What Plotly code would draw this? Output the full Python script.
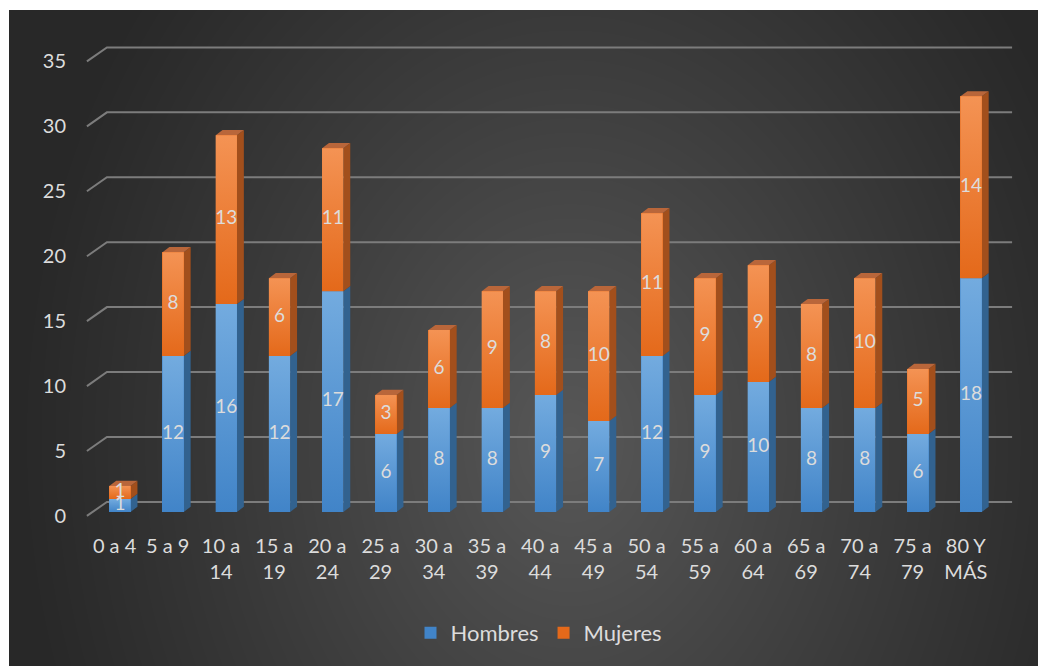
import base64
import struct
import zlib

import numpy as np
import plotly.graph_objects as go

# ---------------- data ----------------
categories = ["0 a 4", "5 a 9", "10 a<br>14", "15 a<br>19", "20 a<br>24", "25 a<br>29",
              "30 a<br>34", "35 a<br>39", "40 a<br>44", "45 a<br>49", "50 a<br>54",
              "55 a<br>59", "60 a<br>64", "65 a<br>69", "70 a<br>74", "75 a<br>79",
              "80 Y<br>MÁS"]
hombres = [1, 12, 16, 12, 17, 6, 8, 8, 9, 7, 12, 9, 10, 8, 8, 6, 18]
mujeres = [1, 8, 13, 6, 11, 3, 6, 9, 8, 10, 11, 9, 9, 8, 10, 5, 14]
y_ticks = [0, 5, 10, 15, 20, 25, 30, 35]

# ---------------- style ----------------
W, H = 1046, 666
OFF = 8                      # page offset of the figure inside the browser window
M_L, M_R, M_T, M_B = 80 - OFF, 27 + OFF, 34 - OFF, 145 + OFF
X_RANGE = [-0.75, 16.9]
Y_RANGE = [-0.7, 36.8]
BAR_W = 0.40
DX, DY = 0.13, 0.40          # 3-D depth of the bars (data units)
FLOOR_SHIFT = -0.31          # front floor level relative to bar front
BACK_SHIFT = 0.77            # back wall level relative to bar front
XF0, XB0, XB1 = -0.62, -0.244, 16.77
LABEL_SHIFT = -0.10

TXT = "#dcdcdc"
FONT = "Lato"
GRID = "#7c7c7c"
BLUE_BOT, BLUE_TOP, BLUE_SIDE = "#4184c8", "#73abdf", "#32628f"
ORG_BOT, ORG_TOP, ORG_SIDE, ORG_CAP = "#e4691a", "#f49354", "#a24f1c", "#b9663a"


def make_png(arr):
    h, w, _ = arr.shape
    raw = b"".join(b"\x00" + arr[r].tobytes() for r in range(h))

    def chunk(t, d):
        c = struct.pack(">I", len(d)) + t + d
        return c + struct.pack(">I", zlib.crc32(t + d) & 0xFFFFFFFF)

    return (b"\x89PNG\r\n\x1a\n"
            + chunk(b"IHDR", struct.pack(">IIBBBBB", w, h, 8, 2, 0, 0, 0))
            + chunk(b"IDAT", zlib.compress(raw, 9))
            + chunk(b"IEND", b""))


# dark radial background (screen pixel 9,10 to the bottom-right corner)
BG_X0, BG_Y0 = 9 - OFF, 10 - OFF
bw, bh = W - BG_X0, H - BG_Y0
yy, xx = np.mgrid[0:bh, 0:bw]
px = xx + BG_X0 + OFF
py = yy + BG_Y0 + OFF
d = np.sqrt(((px - 570) / 560.0) ** 2 + ((py - 440) / 720.0) ** 2)
f = np.clip(1 - d, 0, 1) ** 1.1
val = (40 + 48 * f).astype(np.uint8)
img = np.stack([val, val, val], axis=-1)
bg_uri = "data:image/png;base64," + base64.b64encode(make_png(img)).decode()

pw = W - M_L - M_R
ph = H - M_T - M_B

fig = go.Figure()

x = list(range(len(categories)))
fig.add_trace(go.Bar(x=x, y=hombres, name="Hombres", width=BAR_W,
                     marker=dict(color=BLUE_BOT, line=dict(width=0)), hoverinfo="skip"))
fig.add_trace(go.Bar(x=x, y=mujeres, name="Mujeres", width=BAR_W,
                     marker=dict(color=ORG_BOT, line=dict(width=0)), hoverinfo="skip"))

shapes = []
# back wall gridlines + left floor diagonals
for v in y_ticks:
    shapes.append(dict(type="path", xref="x", yref="y", layer="below",
                       path=f"M {XF0},{v + FLOOR_SHIFT} L {XB0},{v + BACK_SHIFT} L {XB1},{v + BACK_SHIFT}",
                       line=dict(color=GRID, width=2)))

# 3-D side and top faces, gradient front faces
lab_x, lab_y, lab_t = [], [], []
for i in x:
    h, m = hombres[i], mujeres[i]
    xl, xr = i - BAR_W / 2, i + BAR_W / 2
    top = h + m
    shapes.append(dict(type="path", xref="x", yref="y", layer="below",
                       path=f"M {xr},0 L {xr + DX},{DY} L {xr + DX},{h + DY} L {xr},{h} Z",
                       fillcolor=BLUE_SIDE, line=dict(width=0)))
    shapes.append(dict(type="path", xref="x", yref="y", layer="below",
                       path=f"M {xr},{h} L {xr + DX},{h + DY} L {xr + DX},{top + DY} L {xr},{top} Z",
                       fillcolor=ORG_SIDE, line=dict(width=0)))
    shapes.append(dict(type="path", xref="x", yref="y", layer="below",
                       path=f"M {xl},{top} L {xr},{top} L {xr + DX},{top + DY} L {xl + DX},{top + DY} Z",
                       fillcolor=ORG_CAP, line=dict(width=0)))
    for y0, y1, cb, ct in ((0, h, BLUE_BOT, BLUE_TOP), (h, top, ORG_BOT, ORG_TOP)):
        fig.add_trace(go.Scatter(x=[xl, xr, xr, xl, xl], y=[y0, y0, y1, y1, y0],
                                 mode="lines", line=dict(width=0), fill="toself",
                                 fillgradient=dict(type="vertical", colorscale=[[0, cb], [1, ct]]),
                                 showlegend=False, hoverinfo="skip"))
    lab_x += [i, i]
    lab_y += [h / 2, h + m / 2]
    lab_t += [str(h), str(m)]

fig.add_trace(go.Scatter(x=lab_x, y=lab_y, text=lab_t, mode="text",
                         textfont=dict(family=FONT, size=19, color=TXT),
                         showlegend=False, hoverinfo="skip"))

fig.update_layout(
    width=W, height=H,
    margin=dict(l=M_L, r=M_R, t=M_T, b=M_B, pad=0),
    paper_bgcolor="white",
    plot_bgcolor="rgba(0,0,0,0)",
    barmode="stack",
    shapes=shapes,
    images=[dict(source=bg_uri, xref="paper", yref="paper",
                 x=(BG_X0 - M_L) / pw, y=(H - M_B - BG_Y0) / ph,
                 sizex=bw / pw, sizey=bh / ph, sizing="stretch",
                 xanchor="left", yanchor="top", layer="below")],
    xaxis=dict(range=X_RANGE, showgrid=False, zeroline=False, showline=False,
               tickmode="array", tickvals=[i + LABEL_SHIFT for i in x], ticktext=categories,
               tickangle=0, ticks="", ticklabelstandoff=11,
               tickfont=dict(family=FONT, size=20, color=TXT)),
    yaxis=dict(range=Y_RANGE, showgrid=False, zeroline=False, showline=False,
               tickmode="array", tickvals=[v + FLOOR_SHIFT for v in y_ticks],
               ticktext=[str(v) for v in y_ticks], ticks="", ticklabelstandoff=13,
               tickfont=dict(family=FONT, size=20, color=TXT)),
    legend=dict(orientation="h", x=(539 - OFF - M_L) / pw, y=(H - M_B - (633 - OFF)) / ph,
                xanchor="center", yanchor="middle", bgcolor="rgba(0,0,0,0)",
                font=dict(family=FONT, size=22, color=TXT), traceorder="normal"),
    showlegend=True,
)

fig.write_html("out.html")
